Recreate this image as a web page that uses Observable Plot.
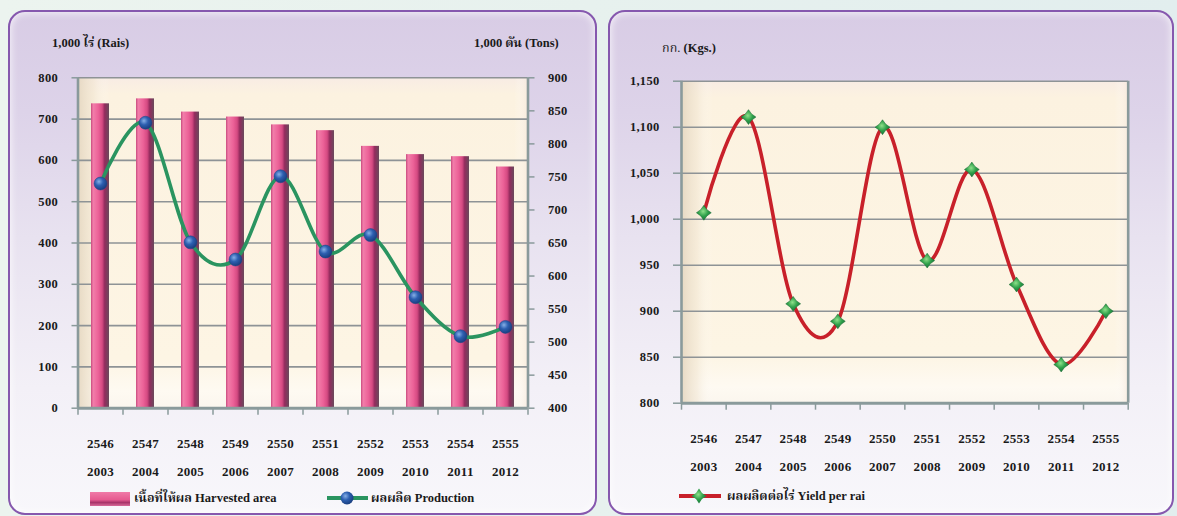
<!DOCTYPE html>
<html><head><meta charset="utf-8">
<script src="https://cdn.jsdelivr.net/npm/d3@7"></script>
<script src="https://cdn.jsdelivr.net/npm/@observablehq/plot@0.6"></script>
<style>
html,body{margin:0;padding:0;}
body{width:1177px;height:516px;overflow:hidden;position:relative;
 background:linear-gradient(90deg,#ecf4ef 0%,#e7f1ee 50%,#e2eeee 100%);
 font-family:"Liberation Serif","Noto Serif Thai","Noto Sans Thai","DejaVu Serif",serif;}
.panel{position:absolute;top:10px;height:505px;border:2.5px solid #8658ae;border-radius:17px;box-sizing:border-box;
 background:linear-gradient(180deg,#d8cce5 0%,#ddd3e9 20%,#e8e2f0 45%,#f3f0f7 75%,#f8f7fb 100%);
 box-shadow:inset 0 0 8px rgba(255,255,255,.9);}
#p1{left:8px;width:589px;}
#p2{left:608px;width:566px;}
.chart{position:absolute;top:0;}
.lbl{position:absolute;font-weight:bold;font-size:12.5px;color:#1a1a1a;white-space:nowrap;line-height:14px;transform:translateY(-50%);}
.leg{position:absolute;}
</style></head>
<body>
<div class="panel" id="p1"></div>
<div class="panel" id="p2"></div>
<div id="c1" class="chart" style="left:0px"></div>
<div id="c2" class="chart" style="left:600px"></div>

<div class="lbl" style="left:52px;top:43px">1,000 ไร่ (Rais)</div>
<div class="lbl" style="left:474px;top:43px">1,000 ตัน (Tons)</div>
<div class="lbl" style="left:662px;top:48px"><span style="font-weight:normal">กก.</span> (Kgs.)</div>

<svg class="leg" style="left:88px;top:488px" width="46" height="22">
 <defs>
  <linearGradient id="legBar" x1="0" y1="0" x2="0" y2="1">
   <stop offset="0" stop-color="#f07aa8"/><stop offset="0.55" stop-color="#e65a90"/>
   <stop offset="0.75" stop-color="#a8346a"/><stop offset="1" stop-color="#d86a98"/>
  </linearGradient>
 </defs>
 <rect x="2" y="4" width="40" height="14" fill="url(#legBar)"/>
</svg>
<div class="lbl" style="left:134px;top:498px">เนื้อที่ให้ผล Harvested area</div>

<svg class="leg" style="left:322px;top:488px" width="50" height="20">
 <defs>
  <radialGradient id="legBall" cx="0.38" cy="0.35" r="0.7">
   <stop offset="0" stop-color="#86afe6"/><stop offset="0.45" stop-color="#2d5fb0"/><stop offset="1" stop-color="#173a7a"/>
  </radialGradient>
 </defs>
 <line x1="5" y1="10" x2="46" y2="10" stroke="#2a9460" stroke-width="4"/>
 <circle cx="25" cy="10" r="6.5" fill="url(#legBall)"/>
</svg>
<div class="lbl" style="left:371px;top:498px">ผลผลิต Production</div>

<svg class="leg" style="left:676px;top:486px" width="50" height="20">
 <defs>
  <radialGradient id="legStar" cx="0.45" cy="0.4" r="0.65">
   <stop offset="0" stop-color="#8ee08a"/><stop offset="0.5" stop-color="#2fa04a"/><stop offset="1" stop-color="#16703a"/>
  </radialGradient>
 </defs>
 <line x1="3" y1="10" x2="45" y2="10" stroke="#c8202a" stroke-width="4"/>
 <path d="M23,2.5 L26,7 L30.5,10 L26,13 L23,17.5 L20,13 L15.5,10 L20,7 Z" fill="url(#legStar)"/>
</svg>
<div class="lbl" style="left:727px;top:496px">ผลผลิตต่อไร่ Yield per rai</div>

<script>
// ---- data ----
const yearsBE = ["2546","2547","2548","2549","2550","2551","2552","2553","2554","2555"];
const yearsAD = ["2003","2004","2005","2006","2007","2008","2009","2010","2011","2012"];
const harvestedArea = [737, 749, 717, 705, 686, 672, 634, 614, 609, 584];   // 1,000 rai
const production    = [740, 832, 651, 625, 751, 637, 662, 568, 509, 523];   // 1,000 tons
const yieldPerRai   = [1007, 1111, 908, 889, 1100, 955, 1054, 929, 842, 900]; // kg
const areaTicks  = [0, 100, 200, 300, 400, 500, 600, 700, 800];
const prodTicks  = [400, 450, 500, 550, 600, 650, 700, 750, 800, 850, 900];
const yieldTicks = [800, 850, 900, 950, 1000, 1050, 1100, 1150];

const rows = yearsBE.map((be, i) => ({i, be, ad: yearsAD[i], area: harvestedArea[i], prod: production[i], yld: yieldPerRai[i]}));
const xDomain = [-0.5, yearsBE.length - 0.5];
const boundaries = d3.range(yearsBE.length + 1).map(k => k - 0.5);

// production (right axis 400..900) mapped onto area scale (0..800)
const areaDom = [areaTicks[0], areaTicks[areaTicks.length - 1]];
const prodDom = [prodTicks[0], prodTicks[prodTicks.length - 1]];
const p2a = v => areaDom[0] + (v - prodDom[0]) * (areaDom[1] - areaDom[0]) / (prodDom[1] - prodDom[0]);
const a2p = v => prodDom[0] + (v - areaDom[0]) * (prodDom[1] - prodDom[0]) / (areaDom[1] - areaDom[0]);

const fmt = d3.format(",");
const FONT = '"Liberation Serif","Noto Serif Thai","Noto Sans Thai","DejaVu Serif",serif';
const GRID = "#8e9396", AXIS = "#8a9a9b", INK = "#1a1a1a";

const star4 = {
  draw(ctx, size) {
    const r = Math.sqrt(size) * 0.6, k = r * 0.42;
    ctx.moveTo(0, -r); ctx.lineTo(k, -k); ctx.lineTo(r, 0); ctx.lineTo(k, k);
    ctx.lineTo(0, r); ctx.lineTo(-k, k); ctx.lineTo(-r, 0); ctx.lineTo(-k, -k); ctx.closePath();
  }
};

const wallDefs = (id) => `
 <linearGradient id="${id}" x1="0" y1="0" x2="0" y2="1">
  <stop offset="0" stop-color="#f8ece4"/><stop offset="0.05" stop-color="#fcf2e0"/>
  <stop offset="0.85" stop-color="#fdf5e4"/><stop offset="0.95" stop-color="#fefaf2"/><stop offset="1" stop-color="#fbf6ee"/>
 </linearGradient>
 <linearGradient id="${id}h" x1="0" y1="0" x2="1" y2="0">
  <stop offset="0" stop-color="#e4d6c0" stop-opacity="0.9"/><stop offset="0.035" stop-color="#efe3cf" stop-opacity="0.5"/>
  <stop offset="0.07" stop-color="#ffffff" stop-opacity="0"/><stop offset="0.97" stop-color="#ffffff" stop-opacity="0"/>
  <stop offset="1" stop-color="#f5e6da" stop-opacity="0.7"/>
 </linearGradient>`;

function addDefs(svg, html) { svg.insertAdjacentHTML("afterbegin", "<defs>" + html + "</defs>"); }

// ---- left chart ----
const H = 516;
const c1 = Plot.plot({
  width: 600, height: H,
  marginLeft: 77.5, marginRight: 72.5, marginTop: 77.3, marginBottom: 108.3,
  x: {type: "linear", domain: xDomain, axis: null},
  y: {domain: areaDom, axis: null},
  style: {background: "transparent", overflow: "visible", fontFamily: FONT, fontWeight: "bold", fontSize: "12.5px", color: INK, letterSpacing: "0.3px"},
  marks: [
    Plot.frame({fill: "url(#wall1)", stroke: null}),
    Plot.frame({fill: "url(#wall1h)", stroke: null}),
    Plot.gridY(areaTicks, {stroke: GRID, strokeOpacity: 1, strokeWidth: 1.6}),
    Plot.rectY(rows, {x1: d => d.i - 0.2, x2: d => d.i + 0.2, y1: areaDom[0], y2: "area", fill: "url(#bar)"}),
    Plot.line(rows, {x: "i", y: d => p2a(d.prod), curve: "cardinal", stroke: "#2a9460", strokeWidth: 3.6}),
    Plot.dot(rows, {x: "i", y: d => p2a(d.prod), r: 6.5, fill: "url(#ball)", stroke: "#1d4686", strokeWidth: 0.5}),
    Plot.ruleX([xDomain[0], xDomain[1]], {stroke: AXIS, strokeWidth: 2.6}),
    Plot.ruleY([areaDom[0]], {stroke: AXIS, strokeWidth: 3}),
    Plot.axisY(areaTicks, {anchor: "left", label: null, tickSize: 6, tickPadding: 14, tickFormat: fmt, stroke: AXIS, strokeWidth: 1.5, fill: INK}),
    Plot.axisY(prodTicks.map(p2a), {anchor: "right", label: null, tickSize: 6, tickPadding: 14, tickFormat: d => fmt(Math.round(a2p(d))), stroke: AXIS, strokeWidth: 1.5, fill: INK}),
    Plot.axisX(boundaries, {anchor: "bottom", label: null, tickSize: 7, tickFormat: () => "", stroke: AXIS, strokeWidth: 1.5}),
    Plot.text(rows, {x: "i", text: "be", frameAnchor: "bottom", dy: 35.5, lineAnchor: "middle", fontSize: 13, fontWeight: "bold", fill: INK}),
    Plot.text(rows, {x: "i", text: "ad", frameAnchor: "bottom", dy: 64, lineAnchor: "middle", fontSize: 13, fontWeight: "bold", fill: INK})
  ]
});
addDefs(c1, wallDefs("wall1") + `
 <linearGradient id="bar" x1="0" y1="0" x2="1" y2="0">
  <stop offset="0" stop-color="#c84a7e"/><stop offset="0.12" stop-color="#f27eaa"/>
  <stop offset="0.4" stop-color="#ec6298"/><stop offset="0.62" stop-color="#d54a82"/>
  <stop offset="0.76" stop-color="#932c5e"/><stop offset="1" stop-color="#6a4a5c"/>
 </linearGradient>
 <radialGradient id="ball" cx="0.38" cy="0.35" r="0.7">
  <stop offset="0" stop-color="#86afe6"/><stop offset="0.45" stop-color="#2d5fb0"/><stop offset="1" stop-color="#173a7a"/>
 </radialGradient>`);
document.getElementById("c1").append(c1);

// ---- right chart ----
const yDom2 = [yieldTicks[0], yieldTicks[yieldTicks.length - 1]];
const c2 = Plot.plot({
  width: 577, height: H,
  marginLeft: 81, marginRight: 49.3, marginTop: 80.7, marginBottom: 113.3,
  x: {type: "linear", domain: xDomain, axis: null},
  y: {domain: yDom2, axis: null},
  style: {background: "transparent", overflow: "visible", fontFamily: FONT, fontWeight: "bold", fontSize: "12.5px", color: INK, letterSpacing: "0.3px"},
  marks: [
    Plot.frame({fill: "url(#wall2)", stroke: null}),
    Plot.frame({fill: "url(#wall2h)", stroke: null}),
    Plot.gridY(yieldTicks, {stroke: GRID, strokeOpacity: 1, strokeWidth: 1.6}),
    Plot.line(rows, {x: "i", y: "yld", curve: "cardinal", stroke: "#c8202a", strokeWidth: 3.6}),
    Plot.dot(rows, {x: "i", y: "yld", r: 7, symbol: star4, fill: "url(#gstar)", stroke: "#1a6a34", strokeWidth: 0.5}),
    Plot.ruleX([xDomain[0], xDomain[1]], {stroke: AXIS, strokeWidth: 2.6}),
    Plot.ruleY([yDom2[0]], {stroke: AXIS, strokeWidth: 3}),
    Plot.axisY(yieldTicks, {anchor: "left", label: null, tickSize: 8, tickPadding: 14, tickFormat: fmt, stroke: AXIS, strokeWidth: 1.5, fill: INK}),
    Plot.axisX(boundaries, {anchor: "bottom", label: null, tickSize: 7, tickFormat: () => "", stroke: AXIS, strokeWidth: 1.5}),
    Plot.text(rows, {x: "i", text: "be", frameAnchor: "bottom", dy: 35.5, lineAnchor: "middle", fontSize: 13, fontWeight: "bold", fill: INK}),
    Plot.text(rows, {x: "i", text: "ad", frameAnchor: "bottom", dy: 64, lineAnchor: "middle", fontSize: 13, fontWeight: "bold", fill: INK})
  ]
});
addDefs(c2, wallDefs("wall2") + `
 <radialGradient id="gstar" cx="0.45" cy="0.4" r="0.65">
  <stop offset="0" stop-color="#8ee08a"/><stop offset="0.5" stop-color="#2fa04a"/><stop offset="1" stop-color="#16703a"/>
 </radialGradient>`);
document.getElementById("c2").append(c2);
</script>
</body></html>
